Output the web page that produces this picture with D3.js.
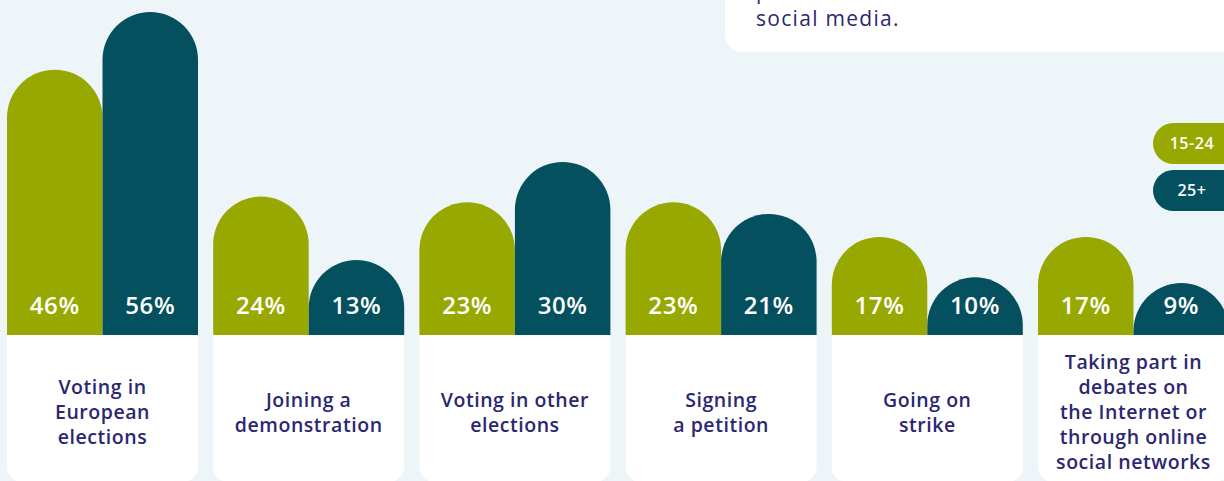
<!DOCTYPE html>
<html>
<head>
<meta charset="utf-8">
<script src="https://cdn.jsdelivr.net/npm/d3@7"></script>
<style>
  html, body { margin: 0; padding: 0; background: #eef5f8; }
  svg { display: block; }
</style>
</head>
<body>
<svg id="chart" width="1224" height="481"></svg>
<script>
// ---- data ----
const categories = [
  "Voting in|European|elections",
  "Joining a|demonstration",
  "Voting in other|elections",
  "Signing|a petition",
  "Going on|strike",
  "Taking part in|debates on|the Internet or|through online|social networks"
];
const seriesNames = ["15-24", "25+"];
const youngValues = [46, 24, 23, 23, 17, 17];
const olderValues = [56, 13, 30, 21, 10, 9];
const noteLines = ["political content on", "social media."];

// ---- layout ----
const W = 1224, H = 481;
const baseY = 335;
const colors = { "15-24": "#97a800", "25+": "#04505f" };
const navy = "#2b2771";
const bg = "#eef5f8";

const svg = d3.select("#chart");
svg.append("rect").attr("width", W).attr("height", H).attr("fill", bg);

const x = d3.scaleBand().domain(categories).range([7, 1229]).paddingInner(0.0737).paddingOuter(0);
const xs = d3.scaleBand().domain(seriesNames).range([0, x.bandwidth()]).padding(0);
const y = d3.scaleLinear().domain([0, 56]).range([baseY, 12]);

const rows = categories.map((c, i) => ({ cat: c, vals: [
  { key: "15-24", v: youngValues[i] },
  { key: "25+", v: olderValues[i] }
]}));

// info box (top right)
svg.append("rect")
  .attr("x", 725).attr("y", -40).attr("width", 540).attr("height", 92)
  .attr("rx", 17).attr("fill", "#ffffff");
svg.append("g").selectAll("text").data(noteLines).join("text")
  .attr("x", 756).attr("y", (d, i) => -1 + i * 27)
  .attr("fill", navy)
  .attr("font-family", "'Open Sans', sans-serif")
  .attr("font-size", 21)
  .attr("letter-spacing", 1.3)
  .text(d => d);

// cards
const g = svg.append("g").selectAll("g").data(rows).join("g")
  .attr("transform", d => `translate(${x(d.cat)},0)`);

g.append("rect")
  .attr("x", 0).attr("y", baseY - 20)
  .attr("width", x.bandwidth()).attr("height", 482 - (baseY - 20))
  .attr("rx", 15).attr("fill", "#ffffff");

// bars with rounded tops
function barPath(x0, w, top, base) {
  const r = w / 2;
  return `M${x0},${base} L${x0},${top + r} A${r},${r} 0 0 1 ${x0 + w},${top + r} L${x0 + w},${base} Z`;
}
g.selectAll("path.bar").data(d => d.vals).join("path")
  .attr("class", "bar")
  .attr("d", d => barPath(xs(d.key), xs.bandwidth(), y(d.v), y(0)))
  .attr("fill", d => colors[d.key]);

g.selectAll("text.val").data(d => d.vals).join("text")
  .attr("class", "val")
  .attr("x", d => xs(d.key) + xs.bandwidth() / 2)
  .attr("y", 314)
  .attr("text-anchor", "middle")
  .attr("fill", "#ffffff")
  .attr("font-family", "'Open Sans', sans-serif")
  .attr("font-weight", 600)
  .attr("font-size", 24)
  .attr("letter-spacing", 0.6)
  .text(d => d.v + "%");

// category labels
const lineH = 25;
g.each(function(d) {
  const lines = d.cat.split("|");
  const t = d3.select(this).append("text")
    .attr("text-anchor", "middle")
    .attr("fill", navy)
    .attr("font-family", "'Open Sans', sans-serif")
    .attr("font-weight", 600)
    .attr("font-size", 19.5)
    .attr("letter-spacing", 0.55);
  const startY = 419 - (lines.length - 1) * lineH / 2;
  lines.forEach((ln, i) => {
    t.append("tspan").attr("x", x.bandwidth() / 2).attr("y", startY + i * lineH).text(ln);
  });
});

// legend pills
const legend = svg.append("g").selectAll("g").data(seriesNames).join("g")
  .attr("transform", (d, i) => `translate(1153,${123 + i * 47})`);
legend.append("rect")
  .attr("width", 100).attr("height", 41).attr("rx", 20.5)
  .attr("fill", d => colors[d]);
legend.append("text")
  .attr("x", 39).attr("y", 26)
  .attr("text-anchor", "middle")
  .attr("fill", "#ffffff")
  .attr("font-family", "'Open Sans', sans-serif")
  .attr("font-weight", 600)
  .attr("font-size", 16)
  .attr("letter-spacing", 0.6)
  .text(d => d);
</script>
</body>
</html>
